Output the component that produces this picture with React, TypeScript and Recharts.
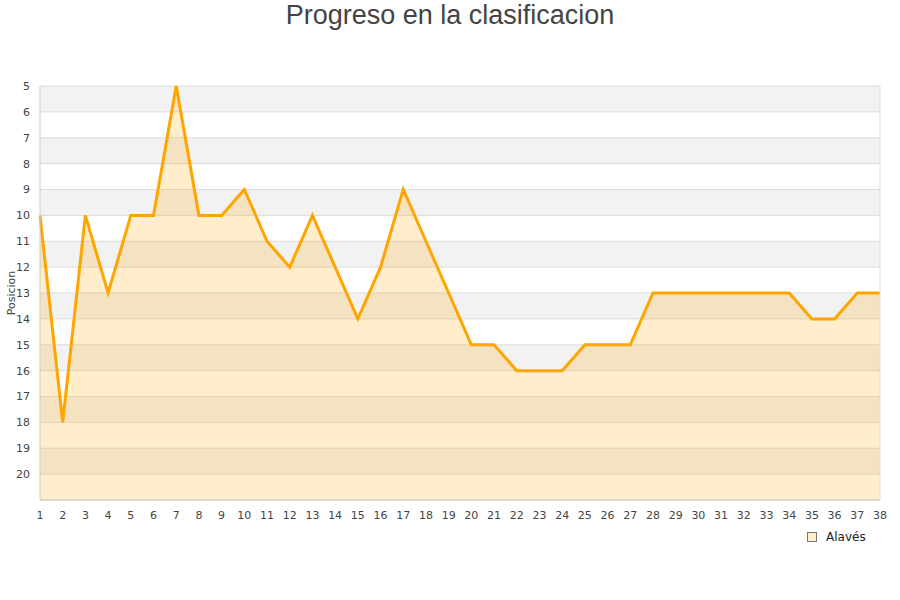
import React from 'react';
import {
  AreaChart,
  Area,
  XAxis,
  YAxis,
  CartesianGrid,
  ReferenceLine,
} from 'recharts';

const jornadas: number[] = [
  1, 2, 3, 4, 5, 6, 7, 8, 9, 10, 11, 12, 13, 14, 15, 16, 17, 18, 19, 20,
  21, 22, 23, 24, 25, 26, 27, 28, 29, 30, 31, 32, 33, 34, 35, 36, 37, 38,
];
const posiciones: number[] = [
  10, 18, 10, 13, 10, 10, 5, 10, 10, 9, 11, 12, 10, 12, 14, 12, 9, 11, 13, 15,
  15, 16, 16, 16, 15, 15, 15, 13, 13, 13, 13, 13, 13, 13, 14, 14, 13, 13,
];
const yTicks: number[] = [5, 6, 7, 8, 9, 10, 11, 12, 13, 14, 15, 16, 17, 18, 19, 20];
const equipo = 'Alavés';

const data = jornadas.map((j, i) => ({ jornada: j, pos: posiciones[i] }));

const tickStyle = { fill: '#444', fontSize: 11, fontFamily: 'DejaVu Sans' };

const LegendBox = () => (
  <div
    style={{
      position: 'absolute',
      top: 530,
      left: 807,
      display: 'flex',
      alignItems: 'center',
      fontFamily: 'DejaVu Sans',
      fontSize: 12,
      color: '#222',
    }}
  >
    <span
      style={{
        display: 'inline-block',
        width: 8,
        height: 8,
        background: '#ffedcc',
        border: '1px solid #777',
        marginRight: 9,
      }}
    />
    {equipo}
  </div>
);

const App: React.FC = () => {
  return (
    <div style={{ position: 'absolute', left: 0, top: 0, width: 900, height: 600, background: '#fff' }}>
      <div
        style={{
          position: 'absolute',
          top: 0,
          width: 900,
          textAlign: 'center',
          fontFamily: 'Liberation Sans, Arial, sans-serif',
          fontSize: 27,
          color: '#444',
          lineHeight: '30px',
        }}
      >
        Progreso en la clasificacion
      </div>
      <AreaChart
        width={900}
        height={600}
        data={data}
        margin={{ top: 86, right: 20, left: 0, bottom: 70 }}
      >
        <CartesianGrid
          vertical={false}
          stroke="#dcdcdc"
          horizontalFill={['#f2f2f2', '#ffffff']}
          fillOpacity={1}
        />
        <XAxis
          dataKey="jornada"
          type="number"
          domain={[1, 38]}
          ticks={jornadas}
          interval={0}
          height={30}
          tick={tickStyle}
          tickLine={false}
          tickSize={0}
          tickMargin={11}
          axisLine={{ stroke: '#cccccc' }}
        />
        <YAxis
          reversed
          domain={[5, 21]}
          ticks={yTicks}
          interval={0}
          width={40}
          tick={tickStyle}
          tickLine={false}
          tickSize={0}
          tickMargin={10}
          axisLine={{ stroke: '#cccccc' }}
          label={{
            value: 'Posicion',
            angle: -90,
            position: 'insideLeft',
            offset: 11,
            style: { fill: '#444', fontSize: 11, fontFamily: 'DejaVu Sans', textAnchor: 'middle' },
          }}
        />
        <ReferenceLine x={38} stroke="#dcdcdc" />
        <Area
          type="linear"
          dataKey="pos"
          name={equipo}
          baseValue={21}
          stroke="#ffa500"
          strokeWidth={3}
          fill="#ffa500"
          fillOpacity={0.2}
          dot={false}
          activeDot={false}
          isAnimationActive={false}
        />
      </AreaChart>
      <LegendBox />
    </div>
  );
};

export default App;
